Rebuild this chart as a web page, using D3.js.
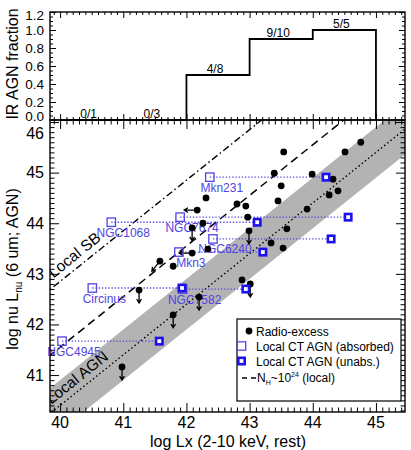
<!DOCTYPE html>
<html>
<head>
<meta charset="utf-8">
<script src="https://cdn.jsdelivr.net/npm/d3@7"></script>
<style>
  body { margin: 0; background: #fff; }
  svg  { font-family: "Liberation Sans", Arial, Helvetica, sans-serif; }
</style>
</head>
<body>
<div id="chart"></div>
<script>
'use strict';

// ─── Дані: верхня панель (частка IR AGN) ─────────────────────────────────
const binEdges   = [40, 41, 42, 43, 44, 45];
const agnFrac    = [0, 0, 0.5, 0.9, 1.0];
const fracLabels = ['0/1', '0/3', '4/8', '9/10', '5/5'];
const fracTicks  = [0, 0.2, 0.4, 0.6, 0.8, 1.0, 1.2];

// ─── Дані: нижня панель ──────────────────────────────────────────────────
const xTicks = [40, 41, 42, 43, 44, 45];
const yTicks = [41, 42, 43, 44, 45, 46];

// radio-excess джерела; lim: '' точка, 'down' / 'left' / 'diag' — верхні межі
const radioLx  = [44.76, 44.51, 43.54, 43.39, 43.99, 44.32, 43.50, 44.26, 44.40, 43.45, 43.91,
                  43.59, 43.34, 43.53, 42.31, 42.17, 42.80, 42.94, 42.97, 42.99, 42.26, 42.09,
                  42.09, 42.34, 41.58, 41.79, 42.88, 43.01, 41.25, 42.20, 41.79, 40.98];
const radioL6  = [45.60, 45.41, 45.41, 44.99, 44.97, 44.87, 44.74, 44.56, 44.64, 44.44, 44.28,
                  43.89, 43.61, 43.51, 44.50, 44.26, 44.38, 44.34, 44.12, 43.85, 44.00, 43.91,
                  43.41, 43.49, 43.25, 43.15, 42.88, 42.80, 42.68, 42.54, 42.19, 41.16];
const radioLim = ['', '', '', '', '', '', '', '', '', '', '',
                  '', '', '', '', 'left', '', '', '', 'down', '', 'down',
                  'left', '', 'diag', '', '', 'down', 'down', 'down', 'down', 'down'];

// локальні Compton-thick AGN: поглинена і непоглинена Lx
const ctNames   = ['Mkn231', 'NGC1068', 'NGC7674', 'NGC6240', 'Mkn3', 'Circinus', 'NGC7582', 'NGC4945'];
const ctLxAbs   = [42.37, 40.81, 41.90, 42.42, 41.88, 40.51, 41.94, 40.03];
const ctLxUnabs = [44.21, 43.12, 44.56, 44.29, 43.21, 41.93, 42.94, 41.57];
const ctL6      = [44.91, 44.02, 44.12, 43.69, 43.43, 42.72, 42.70, 41.67];

// співвідношення (нахил 1): зміщення log L6 − log Lx
const agnOffset  = 0.4;   // Local AGN (пунктир)
const agnHalfW   = 0.5;   // напівширина сірої смуги
const nh24Offset = 1.55;  // N_H ~ 1e24
const sbOffset   = 2.85;  // Local SB

// ─── Розмітка ────────────────────────────────────────────────────────────
const W = 411, H = 450;
const L = 50, R = 405, T1 = 12, B1 = 120, B2 = 412;
const BLUE_ABS = '#5145e2';
const BLUE_UNA = '#1d10ee';

const svg = d3.select('#chart').append('svg').attr('width', W).attr('height', H);

const x  = d3.scaleLinear().domain([39.84, 45.46]).range([L, R]);
const yF = d3.scaleLinear().domain([0, 1.2]).range([B1, T1]);
const y  = d3.scaleLinear().domain([40.27, 46.04]).range([B2, B1]);

const minorX  = d3.range(399, 455).map(v => v / 10).filter(v => v % 1 !== 0);
const minorY  = d3.range(403, 461).map(v => v / 10).filter(v => Math.abs(v - Math.round(v)) > 1e-6);
const minorYF = d3.range(0, 25).map(v => v / 20).filter(v => Math.abs(v * 5 - Math.round(v * 5)) > 1e-6);

function tickAxis(axisFn, scale, values, size, tx, ty) {
  svg.append('g').attr('transform', `translate(${tx},${ty})`)
    .call(axisFn(scale).tickValues(values).tickSize(size).tickFormat(''))
    .call(g => g.select('.domain').remove())
    .call(g => g.selectAll('line').attr('stroke', '#000').attr('stroke-width', 1));
}

// ─── Нижня панель ────────────────────────────────────────────────────────
svg.append('clipPath').attr('id', 'clipMain')
  .append('rect').attr('x', L).attr('y', B1).attr('width', R - L).attr('height', B2 - B1);
const gm = svg.append('g').attr('clip-path', 'url(#clipMain)');
const gl = svg.append('g');   // підписи без обрізання

const xa = 39.0, xb = 46.5;
gm.append('polygon')
  .attr('points', [[xa, xa + agnOffset + agnHalfW], [xb, xb + agnOffset + agnHalfW],
                   [xb, xb + agnOffset - agnHalfW], [xa, xa + agnOffset - agnHalfW]]
    .map(p => [x(p[0]), y(p[1])].join(',')).join(' '))
  .attr('fill', '#b3b3b3');

function relLine(off, dash, w) {
  gm.append('line')
    .attr('x1', x(xa)).attr('y1', y(xa + off)).attr('x2', x(xb)).attr('y2', y(xb + off))
    .attr('stroke', '#000').attr('stroke-width', w).attr('stroke-dasharray', dash);
}
relLine(agnOffset, '1.5,2.6', 1.4);
relLine(nh24Offset, '8,5', 1.5);
relLine(sbOffset, '7,3,1.5,3', 1.4);

// підписи вздовж ліній
const ang = Math.atan2(y(41) - y(40), x(41) - x(40)) * 180 / Math.PI;
function lineText(txt, lx, off, shift) {
  const px = x(lx), py = y(lx + off);
  const r = ang * Math.PI / 180;
  const ox = px + shift * Math.sin(r), oy = py - shift * Math.cos(r);
  gm.append('text').attr('transform', `translate(${ox},${oy}) rotate(${ang})`)
    .attr('font-size', 15.5).attr('fill', '#000').text(txt);
}
lineText('Local AGN', 39.92, agnOffset, 6);
lineText('Local SB', 39.96, sbOffset, 6.5);

// горизонтальні пунктири між поглиненою та непоглиненою Lx
ctNames.forEach((n, i) => {
  gm.append('line')
    .attr('x1', x(ctLxAbs[i])).attr('x2', x(ctLxUnabs[i]))
    .attr('y1', y(ctL6[i])).attr('y2', y(ctL6[i]))
    .attr('stroke', BLUE_ABS).attr('stroke-width', 1.3).attr('stroke-dasharray', '1.3,1.9');
});

// назви
ctNames.forEach((n, i) => {
  gl.append('text').attr('x', x(ctLxAbs[i]) + 12).attr('y', y(ctL6[i]) + 14.5)
    .attr('text-anchor', 'middle').attr('font-size', 12).attr('fill', BLUE_ABS).text(n);
});
const gp = svg.append('g').attr('clip-path', 'url(#clipMain)');

// стрілки верхніх меж
function arrow(g, x1, y1, x2, y2) {
  const a = Math.atan2(y2 - y1, x2 - x1), hl = 4.5, ha = 0.55;
  g.append('path')
    .attr('d', `M${x1},${y1}L${x2},${y2}` +
      `M${x2 - hl * Math.cos(a - ha)},${y2 - hl * Math.sin(a - ha)}L${x2},${y2}` +
      `L${x2 - hl * Math.cos(a + ha)},${y2 - hl * Math.sin(a + ha)}`)
    .attr('fill', 'none').attr('stroke', '#000').attr('stroke-width', 1.3);
}
radioLx.forEach((lx, i) => {
  const cx = x(lx), cy = y(radioL6[i]);
  if (radioLim[i] === 'down') arrow(gp, cx, cy, cx, cy + 13);
  if (radioLim[i] === 'left') arrow(gp, cx, cy, cx - 13, cy);
  if (radioLim[i] === 'diag') arrow(gp, cx, cy, cx - 8, cy + 10);
});
gp.selectAll('circle.radio').data(radioLx).join('circle').attr('class', 'radio')
  .attr('cx', d => x(d)).attr('cy', (d, i) => y(radioL6[i])).attr('r', 3.4).attr('fill', '#000');

// квадрати
function absSquare(g, cx, cy) {
  g.append('rect').attr('x', cx - 4.2).attr('y', cy - 4.2).attr('width', 8.4).attr('height', 8.4)
    .attr('fill', 'none').attr('stroke', BLUE_ABS).attr('stroke-width', 1.3);
}
function unabsSquare(g, cx, cy) {
  g.append('rect').attr('x', cx - 3.2).attr('y', cy - 3.2).attr('width', 6.4).attr('height', 6.4)
    .attr('fill', '#fff').attr('stroke', BLUE_UNA).attr('stroke-width', 2.6);
}
ctNames.forEach((n, i) => absSquare(gp, x(ctLxAbs[i]), y(ctL6[i])));
ctNames.forEach((n, i) => unabsSquare(gp, x(ctLxUnabs[i]), y(ctL6[i])));

// осі нижньої панелі
tickAxis(d3.axisBottom, x, xTicks, -9, 0, B2);
tickAxis(d3.axisBottom, x, minorX, -4.5, 0, B2);
tickAxis(d3.axisTop, x, xTicks, -9, 0, B1);
tickAxis(d3.axisTop, x, minorX, -4.5, 0, B1);
tickAxis(d3.axisLeft, y, yTicks, -9, L, 0);
tickAxis(d3.axisLeft, y, minorY, -4.5, L, 0);
tickAxis(d3.axisRight, y, yTicks, -9, R, 0);
tickAxis(d3.axisRight, y, minorY, -4.5, R, 0);

svg.append('g').selectAll('text').data(xTicks).join('text')
  .attr('x', d => x(d)).attr('y', 428).attr('text-anchor', 'middle')
  .attr('font-size', 16).text(d => d);
svg.append('g').selectAll('text').data(yTicks).join('text')
  .attr('x', 44).attr('y', d => Math.max(y(d), 133)).attr('dy', '0.36em')
  .attr('text-anchor', 'end').attr('font-size', 16).text(d => d);

svg.append('text').attr('x', 228).attr('y', 447).attr('text-anchor', 'middle')
  .attr('font-size', 16).text('log Lx (2-10 keV, rest)');

const yl = svg.append('text').attr('transform', 'translate(18,269) rotate(-90)')
  .attr('text-anchor', 'middle').attr('font-size', 16);
yl.append('tspan').text('log nu L');
yl.append('tspan').attr('font-size', 10).attr('dy', 4).text('nu');
yl.append('tspan').attr('dy', -4).text(' (6 um; AGN)');

// легенда
const lg = svg.append('g');
lg.append('rect').attr('x', 237).attr('y', 319).attr('width', 164).attr('height', 82)
  .attr('fill', '#fff').attr('stroke', '#000').attr('stroke-width', 1.2);
lg.append('circle').attr('cx', 249).attr('cy', 331).attr('r', 3.4).attr('fill', '#000');
absSquare(lg, 241.5, 346);
unabsSquare(lg, 241.5, 361);
lg.append('line').attr('x1', 242).attr('x2', 247).attr('y1', 378).attr('y2', 378).attr('stroke', '#000').attr('stroke-width', 1.5);
lg.append('line').attr('x1', 251).attr('x2', 256).attr('y1', 378).attr('y2', 378).attr('stroke', '#000').attr('stroke-width', 1.5);
const legText = ['Radio-excess', 'Local CT AGN (absorbed)', 'Local CT AGN (unabs.)'];
legText.forEach((t, i) => {
  lg.append('text').attr('x', 256).attr('y', 335.5 + i * 15).attr('font-size', 12).text(t);
});
const nh = lg.append('text').attr('x', 257).attr('y', 381.5).attr('font-size', 12);
nh.append('tspan').text('N');
nh.append('tspan').attr('font-size', 7).attr('dy', 3).text('H');
nh.append('tspan').attr('dy', -3).text('~10');
nh.append('tspan').attr('font-size', 7).attr('dy', -5).text('24');
nh.append('tspan').attr('dy', 5).text(' (local)');

// ─── Верхня панель ───────────────────────────────────────────────────────
const stepPts = [];
agnFrac.forEach((f, i) => { stepPts.push([binEdges[i], f], [binEdges[i + 1], f]); });
stepPts.unshift([binEdges[0], 0]);
stepPts.push([binEdges[binEdges.length - 1], 0]);
svg.append('path')
  .attr('d', d3.line().x(d => x(d[0])).y(d => yF(d[1]))(stepPts))
  .attr('fill', 'none').attr('stroke', '#000').attr('stroke-width', 1.8);

svg.append('g').selectAll('text').data(fracLabels).join('text')
  .attr('x', (d, i) => x((binEdges[i] + binEdges[i + 1]) / 2) - 3)
  .attr('y', (d, i) => yF(agnFrac[i]) - 2.5)
  .attr('text-anchor', 'middle').attr('font-size', 12).text(d => d);

tickAxis(d3.axisTop, x, xTicks, -6, 0, T1);
tickAxis(d3.axisTop, x, minorX, -3, 0, T1);
tickAxis(d3.axisBottom, x, xTicks, -6, 0, B1);
tickAxis(d3.axisBottom, x, minorX, -3, 0, B1);
tickAxis(d3.axisLeft, yF, fracTicks, -6, L, 0);
tickAxis(d3.axisLeft, yF, minorYF, -3, L, 0);
tickAxis(d3.axisRight, yF, fracTicks, -6, R, 0);
tickAxis(d3.axisRight, yF, minorYF, -3, R, 0);

svg.append('g').selectAll('text').data(fracTicks).join('text')
  .attr('x', 44).attr('y', d => Math.min(Math.max(yF(d), 15), 116)).attr('dy', '0.36em')
  .attr('text-anchor', 'end').attr('font-size', 13.5).text(d => d.toFixed(1));

svg.append('text').attr('transform', 'translate(18,64) rotate(-90)')
  .attr('text-anchor', 'middle').attr('font-size', 16).text('IR AGN fraction');

// рамки
[[T1, B1], [B1, B2]].forEach(([t, b]) => {
  svg.append('rect').attr('x', L).attr('y', t).attr('width', R - L).attr('height', b - t)
    .attr('fill', 'none').attr('stroke', '#000').attr('stroke-width', 1.4);
});
</script>
</body>
</html>
